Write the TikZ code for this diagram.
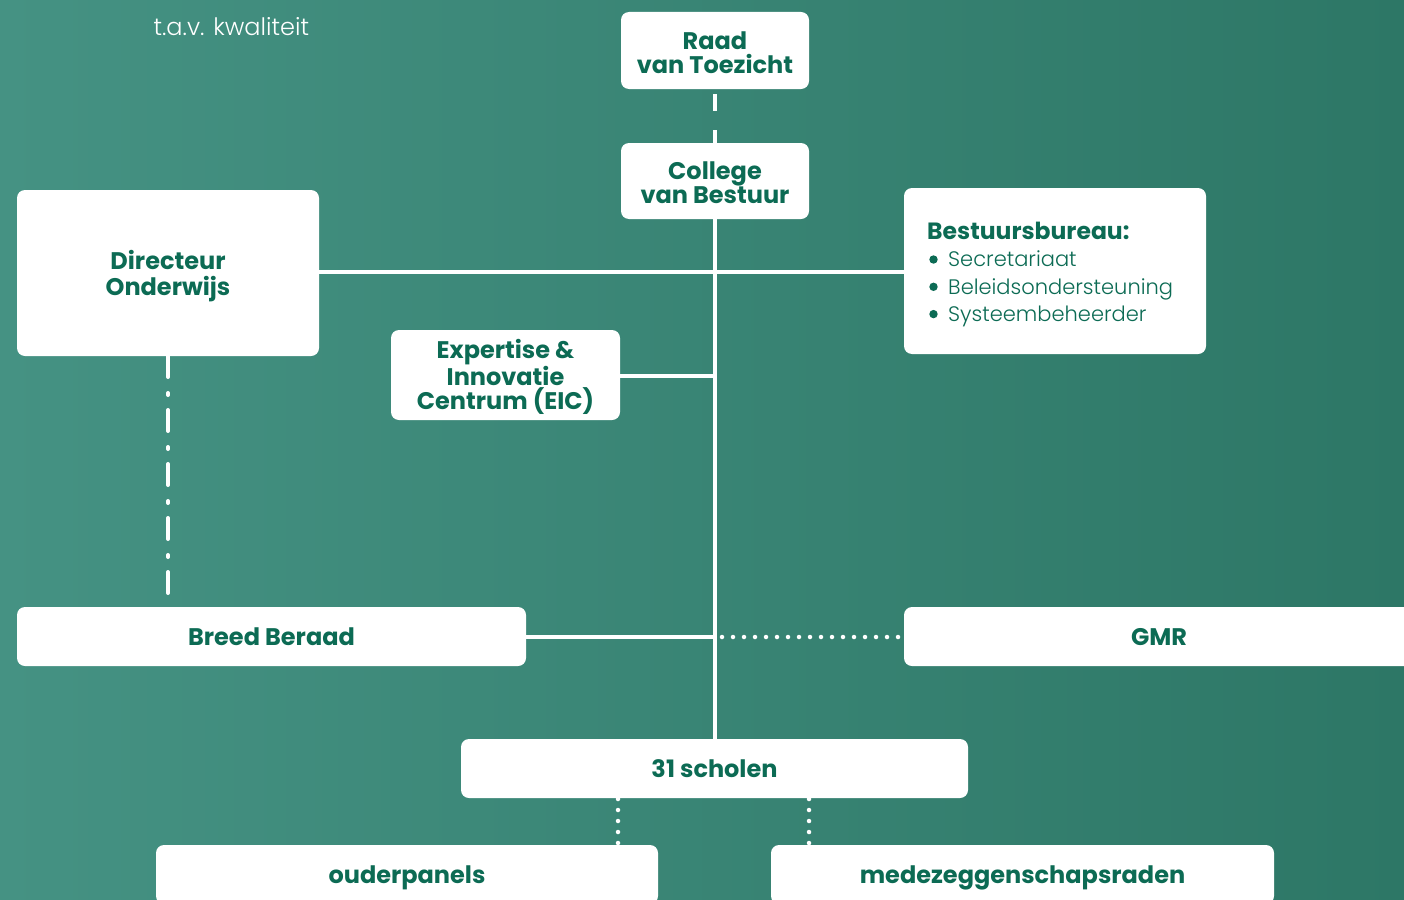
\documentclass[tikz,border=0pt]{standalone}
\usepackage{fontspec}
\setmainfont{Poppins}
\newfontfamily\lightfont{Poppins Light}
\definecolor{bgL}{RGB}{69,146,131}
\definecolor{bgR}{RGB}{45,119,102}
\definecolor{txt}{RGB}{12,107,84}
\newcommand{\ind}{\hspace*{21pt}}
\begin{document}
\begin{tikzpicture}[x=1pt,y=-1pt,
  box/.style={fill=white,rounded corners=8pt,inner sep=0pt,text=txt,font=\bfseries\fontsize{24}{24}\selectfont,align=center},
  one/.style={text height=18pt,text depth=-2pt},
  lbl/.style={yshift=-2pt,align=center,text=txt,inner sep=0pt,font=\bfseries\fontsize{24}{24}\selectfont},
  conn/.style={draw=white,line width=3.6pt},
  dotline/.style={draw=white,line width=4.5pt,line cap=round,dash pattern=on 0pt off 11pt},
  dashline/.style={draw=white,line width=4pt,dash pattern=on 17pt off 19pt},
  dashdot/.style={draw=white,line width=4pt,line cap=round,dash pattern=on 21pt off 16pt on 2pt off 15pt},
  bulletdot/.style={fill=txt}]
\useasboundingbox (0,0) rectangle (1404,899);
\clip (0,0) rectangle (1404,899);
\shade[left color=bgL,right color=bgR] (0,0) rectangle (1404,899);
\node[anchor=base west,text=white,font=\lightfont\fontsize{24}{26}\selectfont] (tav) at (150,36) {t.a.v. kwaliteit};
% coordinates for connectors
\coordinate (rvtb) at (715,94);
\coordinate (cvbt) at (715,147);
% connectors (behind boxes)
\draw[dashline] (rvtb) -- (cvbt);
\draw[conn] (715,215) -- (715,742);
\draw[conn] (315,272) -- (908,272);
\draw[conn] (616,376) -- (715,376);
\draw[conn] (522,637) -- (715,637);
\draw[dotline] (722,637) -- (900,637);
\draw[dashdot] (168,356) -- (168,607);
\draw[dotline] (618,799) -- (618,845);
\draw[dotline] (809,799) -- (809,845);
% boxes
\node[box,minimum width=188pt,minimum height=77pt,label={[lbl]center:{Raad\\van Toezicht}}] (rvt) at (715,50.5) {};
\node[box,minimum width=188pt,minimum height=76pt,label={[lbl]center:{College\\van Bestuur}}] (cvb) at (715,181) {};
\node[box,minimum width=302pt,minimum height=166pt,label={[lbl,font=\bfseries\fontsize{24}{26}\selectfont,yshift=-1pt]center:{Directeur\\Onderwijs}}] (dir) at (168,273) {};
\node[box,minimum width=302pt,minimum height=166pt] (bb) at (1055,271) {};
\node[anchor=north west,inner sep=0pt,align=left,text=txt,font=\fontsize{21}{27.3}\selectfont] (bbt) at (927,222) {{\fontsize{23.5}{27.3}\selectfont\textbf{Bestuursbureau:}}\\{\ind\lightfont Secretariaat}\\{\ind\lightfont Beleidsondersteuning}\\{\ind\lightfont Systeembeheerder}};
\fill[bulletdot] (933.5,259.5) circle (4.2pt);
\fill[bulletdot] (933.5,286.8) circle (4.2pt);
\fill[bulletdot] (933.5,314.1) circle (4.2pt);
\node[box,minimum width=229pt,minimum height=90pt,label={[lbl]center:{Expertise \&\\Innovatie\\Centrum (EIC)}}] (eic) at (505.5,375) {};
\node[box,one,minimum width=509pt,minimum height=59pt] (bro) at (271.5,636.5) {Breed Beraad};
\node[box,one,minimum width=510pt,minimum height=59pt] (gmr) at (1159,636.5) {GMR};
\node[box,one,minimum width=507pt,minimum height=59pt] (sch) at (714.5,768.5) {31 scholen};
\node[box,one,minimum width=502pt,minimum height=59pt] (oud) at (407,874.5) {ouderpanels};
\node[box,one,minimum width=503pt,minimum height=59pt] (mzr) at (1022.5,874.5) {medezeggenschapsraden};
\end{tikzpicture}
\end{document}
